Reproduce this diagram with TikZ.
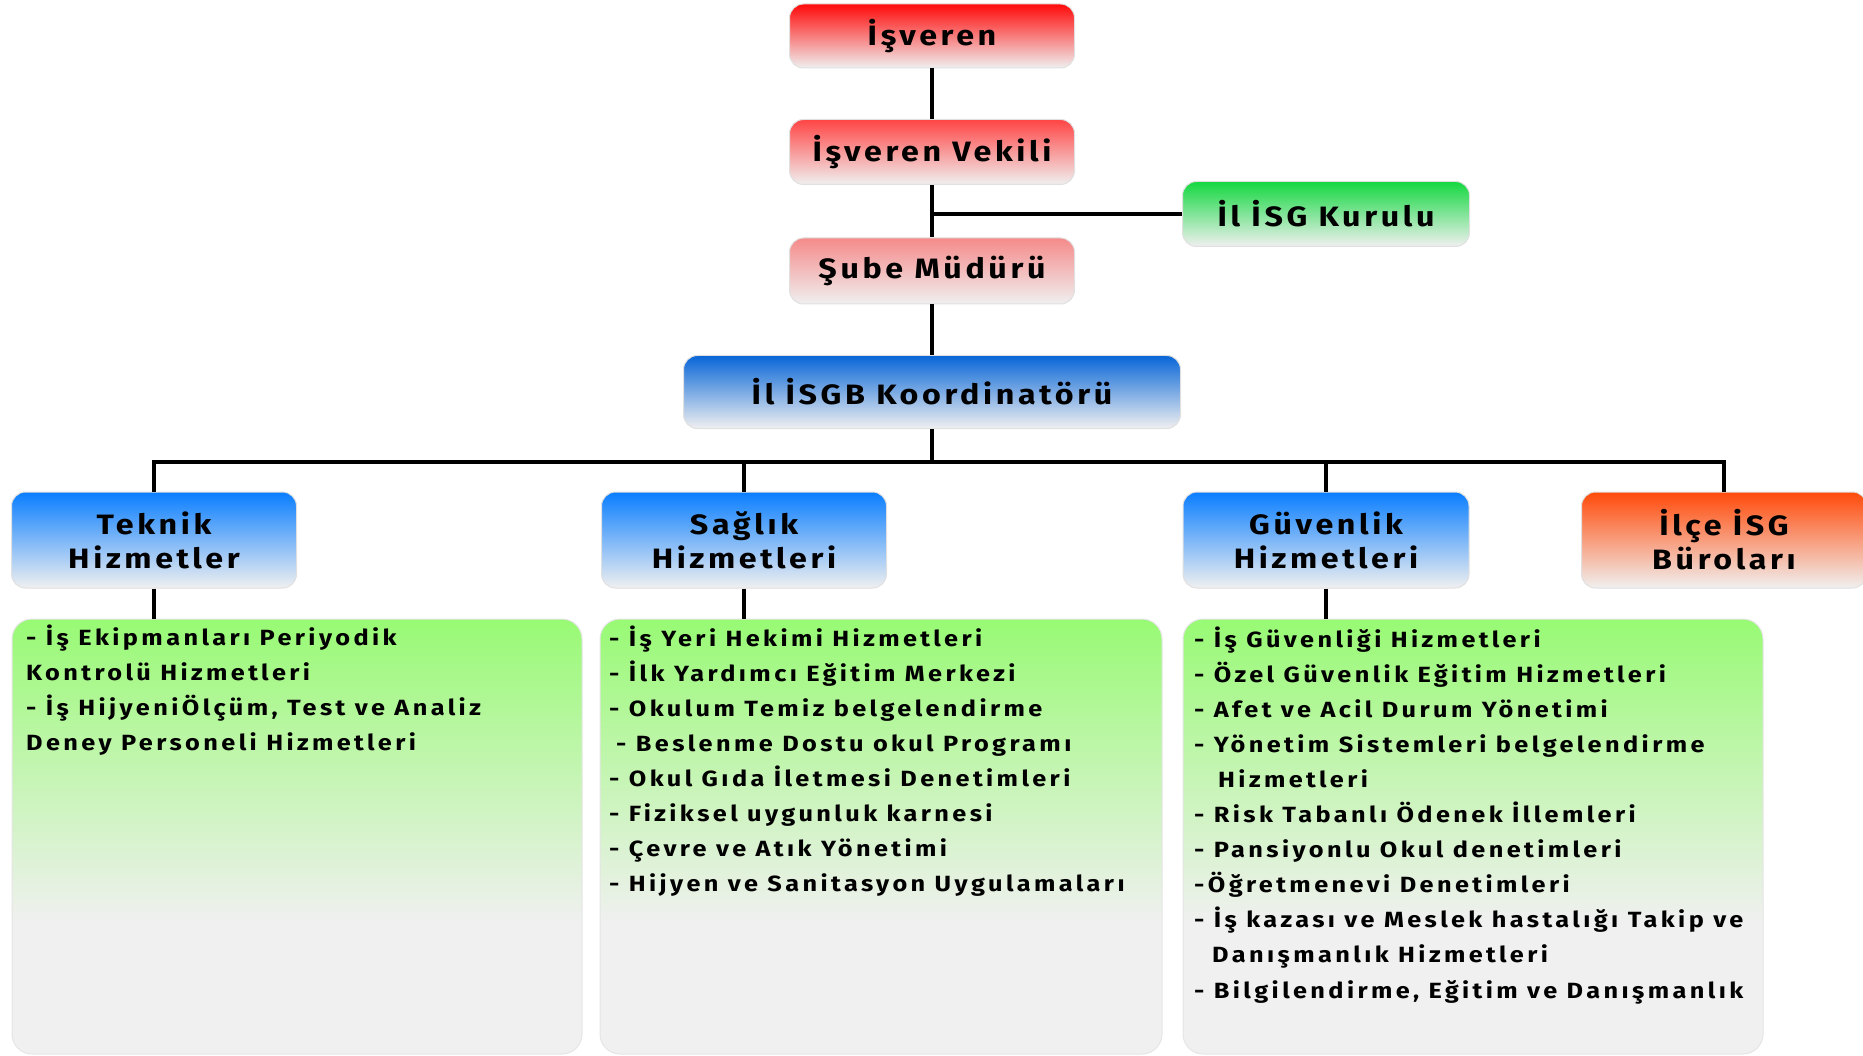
\documentclass[tikz,border=0pt]{standalone}
\usepackage{fontspec}
\setmainfont{Fira Sans}
\newfontfamily\boxfont[LetterSpace=13,FakeStretch=1.15]{Fira Sans}
\newfontfamily\itemfont[LetterSpace=15.5,FakeStretch=1.15]{Fira Sans}
\definecolor{cIsv}{HTML}{FF0A0A}
\definecolor{cVek}{HTML}{FF4545}
\definecolor{cSube}{HTML}{F58A8A}
\definecolor{cKur}{HTML}{14D840}
\definecolor{cKoor}{HTML}{0866D8}
\definecolor{cSub}{HTML}{0A7EFF}
\definecolor{cIlce}{HTML}{FF4A0A}
\definecolor{cFade}{HTML}{F0F0F0}
\definecolor{cGreen}{HTML}{98FA74}
\pgfdeclareverticalshading{greenfade}{100bp}{color(0bp)=(cFade); color(25bp)=(cFade); color(40bp)=(cFade); color(75bp)=(cGreen); color(100bp)=(cGreen)}
\tikzset{
  box/.style={rounded corners=14pt, draw=black!12, line width=1pt, align=center,
    inner sep=0pt, font=\boxfont\bfseries\fontsize{28}{34}\selectfont, bottom color=cFade},
  listbox/.style={rounded corners=20pt, draw=black!10, line width=1pt, inner sep=0pt, shading=greenfade},
  conn/.style={line width=4pt, black},
  item/.style={anchor=base west, inner sep=0pt, font=\itemfont\bfseries\fontsize{22}{26}\selectfont},
}
\begin{document}
\begin{tikzpicture}[x=1pt,y=-1pt]
\useasboundingbox (0,0) rectangle (1863,1056);
% top chain
\node[box, top color=cIsv, minimum width=285pt, minimum height=64pt] (isv) at (932,36) {İşveren};
\node[box, top color=cVek, minimum width=285pt, minimum height=65pt] (vek) at (932,152) {İşveren Vekili};
\node[box, top color=cKur, minimum width=287pt, minimum height=65pt] (kur) at (1326,214) {İl İSG Kurulu};
\node[box, top color=cSube, minimum width=285pt, minimum height=66pt] (sube) at (932,271) {Şube Müdürü};
\node[box, top color=cKoor, minimum width=497pt, minimum height=73pt] (koor) at (932,392) {İl İSGB Koordinatörü};
% second level
\node[box, top color=cSub, minimum width=285pt, minimum height=96pt] (tek) at (154,540) {Teknik\\Hizmetler};
\node[box, top color=cSub, minimum width=285pt, minimum height=96pt] (sag) at (744,540) {Sağlık\\Hizmetleri};
\node[box, top color=cSub, minimum width=286pt, minimum height=96pt] (guv) at (1326,540) {Güvenlik\\Hizmetleri};
\node[box, top color=cIlce, minimum width=285pt, minimum height=96pt] (ilce) at (1724,540) {İlçe İSG\\Büroları};
% list boxes
\node[listbox, minimum width=570pt, minimum height=435pt] (tekL) at (297,836.5) {};
\node[listbox, minimum width=562pt, minimum height=435pt] (sagL) at (881,836.5) {};
\node[listbox, minimum width=580pt, minimum height=435pt] (guvL) at (1473,836.5) {};
% connectors
\coordinate (bus) at (932,462);
\draw[conn] (isv) -- (vek);
\draw[conn] (vek) -- (sube);
\draw[conn] (kur.west) -- (kur.west -| vek.south);
\draw[conn] (sube) -- (koor);
\draw[conn] (koor) -- (bus);
\draw[conn] (tek.north) |- (bus) -| (ilce.north);
\draw[conn] (sag.north) -- (sag.north |- bus);
\draw[conn] (guv.north) -- (guv.north |- bus);
\draw[conn] (tek.south) -- (tek.south |- tekL.north);
\draw[conn] (sag.south) -- (sag.south |- sagL.north);
\draw[conn] (guv.south) -- (guv.south |- guvL.north);
% list texts
\foreach \dx/\t [count=\i] in {0/{- İş Ekipmanları Periyodik}, 0/{Kontrolü Hizmetleri}, 0/{- İş HijyeniÖlçüm, Test ve Analiz}, 0/{Deney Personeli Hizmetleri}}
  \node[item] (tk\i) at (26+\dx, 645+35.1*\i-35.1) {\t};
\foreach \dx/\t [count=\i] in {0/{- İş Yeri Hekimi Hizmetleri}, 0/{- İlk Yardımcı Eğitim Merkezi}, 0/{- Okulum Temiz belgelendirme}, 7/{- Beslenme Dostu okul Programı}, 0/{- Okul Gıda İletmesi Denetimleri}, 0/{- Fiziksel uygunluk karnesi}, 0/{- Çevre ve Atık Yönetimi}, 0/{- Hijyen ve Sanitasyon Uygulamaları}}
  \node[item] (sg\i) at (609+\dx, 646+35.1*\i-35.1) {\t};
\foreach \dx/\t [count=\i] in {0/{- İş Güvenliği Hizmetleri}, 0/{- Özel Güvenlik Eğitim Hizmetleri}, 0/{- Afet ve Acil Durum Yönetimi}, 0/{- Yönetim Sistemleri belgelendirme}, 24/{Hizmetleri}, 0/{- Risk Tabanlı Ödenek İllemleri}, 0/{- Pansiyonlu Okul denetimleri}, 0/{-Öğretmenevi Denetimleri}, 0/{- İş kazası ve Meslek hastalığı Takip ve}, 18/{Danışmanlık Hizmetleri}, 0/{- Bilgilendirme, Eğitim ve Danışmanlık}}
  \node[item] (gv\i) at (1194+\dx, 647+35.1*\i-35.1) {\t};
\end{tikzpicture}
\end{document}
